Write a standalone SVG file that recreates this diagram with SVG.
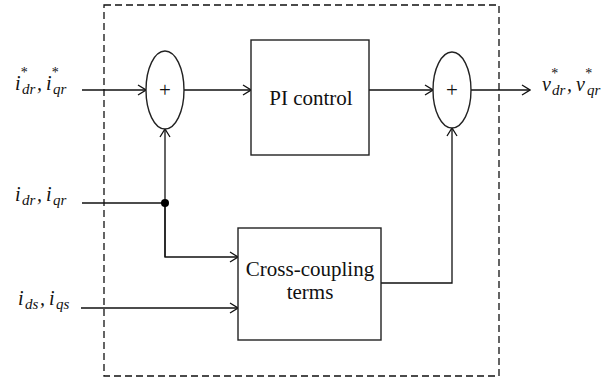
<svg xmlns="http://www.w3.org/2000/svg" width="610" height="381" viewBox="0 0 610 381">
<defs>
<marker id="arr" viewBox="0 0 10 12" refX="9" refY="6" markerWidth="10" markerHeight="12" markerUnits="userSpaceOnUse" orient="auto">
<path d="M1,1 L9,6 L1,11" fill="none" stroke="#111" stroke-width="1.3"/>
</marker>
<style>
.ln{fill:none;stroke:#111;stroke-width:1.3}
.bx{fill:#fff;stroke:#222;stroke-width:1.4}
.t{font-family:"Liberation Serif",serif;font-size:21px;fill:#111}
.m{font-family:"Liberation Serif",serif;font-style:italic;font-size:20px;fill:#111}
.s{font-size:15px}
.a{font-style:normal;font-size:14px}
</style>
</defs>
<rect x="104" y="5" width="395" height="371" fill="none" stroke="#111" stroke-width="1.3" stroke-dasharray="7,4"/>
<g id="connectors">
<line class="ln" x1="82" y1="90" x2="146" y2="90" marker-end="url(#arr)"/>
<line class="ln" x1="184" y1="90" x2="251" y2="90" marker-end="url(#arr)"/>
<line class="ln" x1="369" y1="90" x2="433" y2="90" marker-end="url(#arr)"/>
<line class="ln" x1="471" y1="90" x2="530" y2="90" marker-end="url(#arr)"/>
<line class="ln" x1="82" y1="203" x2="165" y2="203"/>
<line class="ln" x1="165" y1="257" x2="165" y2="129" marker-end="url(#arr)"/>
<polyline class="ln" points="165,203 165,257 238,257" marker-end="url(#arr)"/>
<line class="ln" x1="81" y1="308" x2="238" y2="308" marker-end="url(#arr)"/>
<polyline class="ln" points="381,283 452,283 452,128" marker-end="url(#arr)"/>
<circle cx="165" cy="203" r="4" fill="#000"/>
</g>
<g id="sum1">
<ellipse class="bx" cx="165" cy="90" rx="19" ry="39"/>
<text class="t" x="165" y="97" text-anchor="middle" font-size="18">+</text>
</g>
<g id="pi">
<rect class="bx" x="251" y="40" width="118" height="115"/>
<text class="t" x="311" y="105" text-anchor="middle">PI control</text>
</g>
<g id="sum2">
<ellipse class="bx" cx="452" cy="90" rx="19" ry="38"/>
<text class="t" x="452" y="97" text-anchor="middle" font-size="18">+</text>
</g>
<g id="cross">
<rect class="bx" x="238" y="228" width="143" height="112"/>
<text class="t" x="310" y="276" text-anchor="middle">Cross-coupling</text>
<text class="t" x="310" y="299" text-anchor="middle">terms</text>
</g>
<g id="in1">
<text class="m" y="90"><tspan x="15">i</tspan><tspan class="a" x="20.8" dy="-13">*</tspan><tspan class="s" x="22" dy="17">dr</tspan><tspan x="37" dy="-4">,</tspan><tspan x="46">i</tspan><tspan class="a" x="51.8" dy="-13">*</tspan><tspan class="s" x="53" dy="17">qr</tspan></text>
</g>
<g id="in2">
<text class="m" y="201"><tspan x="15">i</tspan><tspan class="s" x="22" dy="4">dr</tspan><tspan x="37" dy="-4">,</tspan><tspan x="46">i</tspan><tspan class="s" x="53" dy="4">qr</tspan></text>
</g>
<g id="in3">
<text class="m" y="305"><tspan x="18">i</tspan><tspan class="s" x="25" dy="4">ds</tspan><tspan x="40" dy="-4">,</tspan><tspan x="49">i</tspan><tspan class="s" x="56" dy="4">qs</tspan></text>
</g>
<g id="out">
<text class="m" y="91"><tspan x="542">v</tspan><tspan class="a" x="551.2" dy="-13">*</tspan><tspan class="s" x="552" dy="17">dr</tspan><tspan x="567" dy="-4">,</tspan><tspan x="576">v</tspan><tspan class="a" x="585.2" dy="-13">*</tspan><tspan class="s" x="587" dy="17">qr</tspan></text>
</g>
</svg>
